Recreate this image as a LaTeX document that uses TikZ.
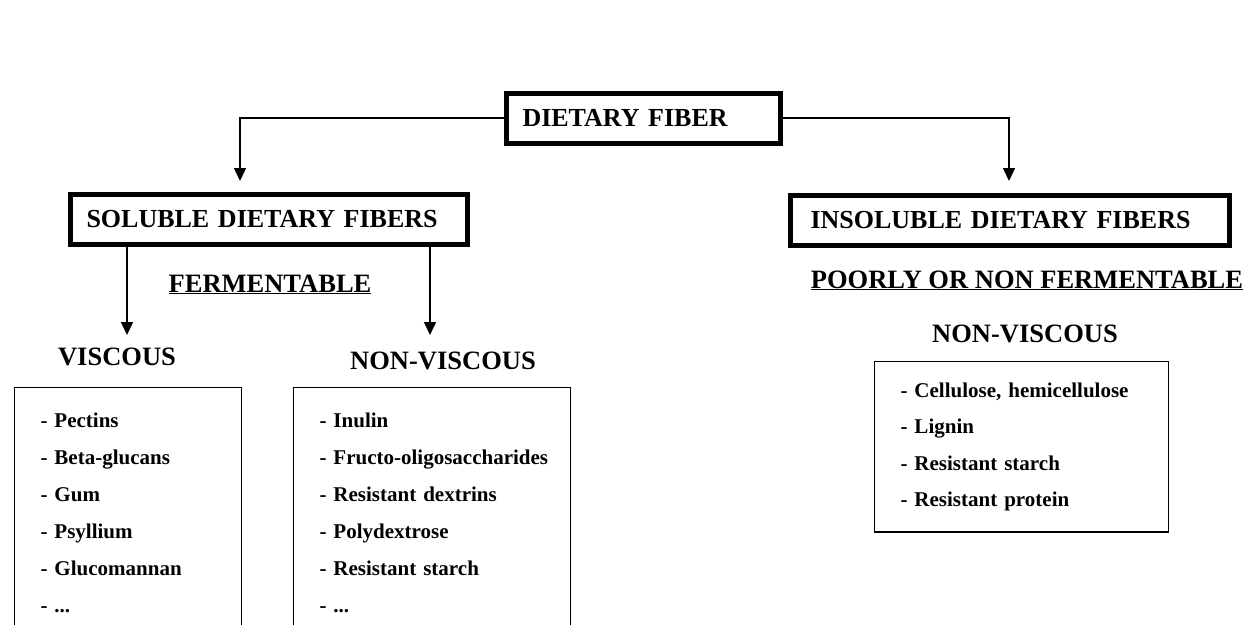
\documentclass[tikz,border=0pt]{standalone}
\usepackage{fontspec}
\setmainfont{Liberation Serif}
\usetikzlibrary{arrows.meta,positioning}

\tikzset{
  headbox/.style={draw, line width=5pt, inner xsep=16pt, minimum height=50pt,
    align=left, font=\fontsize{26}{30}\selectfont\bfseries},
  sublabel/.style={anchor=base, inner sep=0pt, font=\fontsize{26.5}{30}\selectfont\bfseries},
  listbox/.style={draw, line width=1.5pt, anchor=north west, inner xsep=26pt,
    align=left, font=\fontsize{21}{37}\selectfont\bfseries},
  link/.style={line width=1.5pt, -{Triangle[length=13pt,width=12pt]}},
}

\begin{document}
\begin{tikzpicture}[x=1pt, y=-1pt]
\clip (0,0) rectangle (1256,624);
% --- Main boxes ---
\node[headbox, text width=242pt] (fiber) at (643.5,118) {DIETARY FIBER};
\node[headbox, text width=365pt] (soluble) at (269,219.5) {SOLUBLE DIETARY FIBERS};
\node[headbox, text width=399pt, inner xsep=20pt] (insoluble) at (1010,220) {INSOLUBLE DIETARY FIBERS};
% Arrow end points
\coordinate (solin) at (240,181);
\coordinate (insolin) at (1009,181);
\coordinate (viscin) at (127,335);
\coordinate (nonviscin) at (430,335);
% --- Sub labels ---
\node[sublabel] (ferm) at (270,292) {\underline{FERMENTABLE}};
\node[sublabel] (visc) at (117,365) {VISCOUS};
\node[sublabel] (nonvisc) at (443,369) {NON-VISCOUS};
\node[sublabel] (poor) at (1027,288) {\underline{POORLY OR NON FERMENTABLE}};
\node[sublabel] (insolvisc) at (1025,342) {NON-VISCOUS};
% --- Lists ---
\node[listbox, inner ysep=25pt, text width=175pt] (visclist) at (13.75,386.75)
  {- Pectins\\- Beta-glucans\\- Gum\\- Psyllium\\- Glucomannan\\- ...};
\node[listbox, inner ysep=25pt, text width=225pt] (nonvisclist) at (292.75,386.75)
  {- Inulin\\\mbox{- Fructo-oligosaccharides}\\- Resistant dextrins\\- Polydextrose\\- Resistant starch\\- ...};
\node[listbox, inner ysep=21pt, text width=242pt, font=\fontsize{21}{36.5}\selectfont\bfseries] (insollist) at (873.75,360.75)
  {- Cellulose, hemicellulose\\- Lignin\\- Resistant starch\\- Resistant protein};
% --- Connectors ---
\draw[link] (fiber.west) -| (solin);
\draw[link] (fiber.east) -| (insolin);
\draw[link] (soluble.south -| viscin) -- (viscin);
\draw[link] (soluble.south -| nonviscin) -- (nonviscin);
\end{tikzpicture}
\end{document}
